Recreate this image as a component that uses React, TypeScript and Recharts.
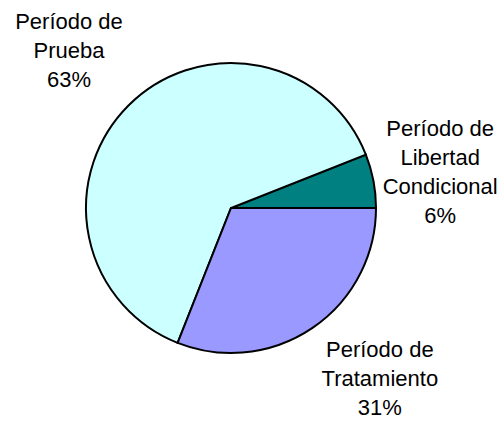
import React from "react";
import { PieChart, Pie, Cell } from "recharts";

const names = ["Período de\nLibertad\nCondicional", "Período de\nPrueba", "Período de\nTratamiento"];
const values = [6, 63, 31];
const colors = ["#008080", "#CCFFFF", "#9999FF"];

const data = names.map((name, i) => ({ name, value: values[i] }));

// nudges for each label block, relative to a point on the slice's mid angle
const labelNudge = [
  { dx: -2, dy: 12 },
  { dx: -10, dy: 2 },
  { dx: 28, dy: 0 },
];

const RAD = Math.PI / 180;
const LINE = 29;

function renderLabel(props: any) {
  const { cx, cy, midAngle, outerRadius, index, name, value } = props;
  const r = outerRadius + 70;
  const x = cx + r * Math.cos(-midAngle * RAD) + labelNudge[index].dx;
  const yMid = cy + r * Math.sin(-midAngle * RAD) + labelNudge[index].dy;
  const lines = [...String(name).split("\n"), `${value}%`];
  const y0 = yMid - ((lines.length - 1) * LINE) / 2;
  return (
    <text
      x={x}
      y={y0}
      textAnchor="middle"
      fill="#000"
      fontFamily="'Liberation Sans', Arial, sans-serif"
      fontSize={22}
    >
      {lines.map((l, k) => (
        <tspan key={k} x={x} y={y0 + k * LINE}>
          {l}
        </tspan>
      ))}
    </text>
  );
}

export default function App() {
  return (
    <div style={{ position: "absolute", left: 0, top: 0, background: "#fff" }}>
      <PieChart width={504} height={421} margin={{ top: 0, right: 0, bottom: 0, left: 0 }}>
        <Pie
          data={data}
          dataKey="value"
          nameKey="name"
          cx={231}
          cy={208}
          outerRadius={145}
          startAngle={0}
          endAngle={360}
          stroke="#000"
          strokeWidth={2}
          label={renderLabel}
          labelLine={false}
          isAnimationActive={false}
        >
          {data.map((_, i) => (
            <Cell key={i} fill={colors[i]} />
          ))}
        </Pie>
      </PieChart>
    </div>
  );
}
